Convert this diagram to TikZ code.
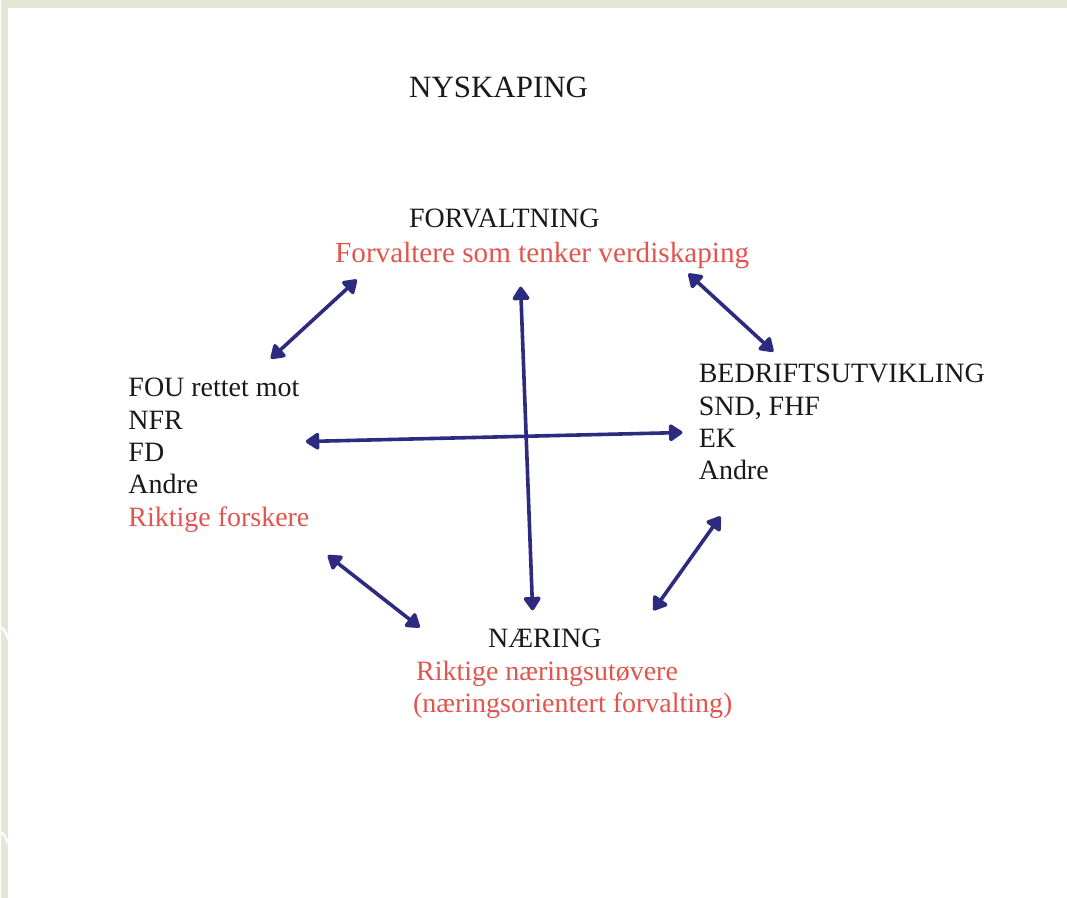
\documentclass[tikz,border=0pt]{standalone}
\usepackage{fontspec}
\setmainfont{Liberation Serif}
\usetikzlibrary{arrows.meta}

\definecolor{scanbg}{HTML}{E3E7D6}
\definecolor{inkblue}{HTML}{2D2B80}
\definecolor{inkred}{HTML}{E2554E}

\begin{document}
\begin{tikzpicture}[x=0.5pt, y=-0.5pt]
    \tikzset{
      line/.style={anchor=base west, inner sep=0pt, text=black!90, font=\fontsize{14}{16}\selectfont},
      redline/.style={line, text=inkred},
      link/.style={inkblue, line width=1.8pt, line join=round,
        {Triangle[width=9.5pt, length=7.5pt, round]}-{Triangle[width=9.5pt, length=7.5pt, round]}},
    }
    % scanned page
    \fill[scanbg] (0,0) rectangle (1067,899);
    \fill[white] (7,8) rectangle (1067,899);
    \draw[white, line width=1.2pt] (0,628) .. controls (4,632) .. (7,640);
    \draw[white, line width=1.2pt] (0,833) .. controls (4,837) .. (7,845);
    \useasboundingbox (0,0) rectangle (1067,899);

    \node[line, font=\fontsize{15.5}{18}\selectfont] (title) at (408,98) {NYSKAPING};

    % top
    \node[line] (forv) at (408,228) {FORVALTNING};
    \node[redline, font=\fontsize{14.6}{17}\selectfont] (forvred) at (334,263) {Forvaltere som tenker verdiskaping};

    % left
    \foreach \txt [count=\i] in {FOU rettet mot, NFR, FD, Andre}
      \node[line] (fou\i) at (127,{397+32.5*(\i-1)}) {\txt};
    \node[redline] (fou5) at (127,527) {Riktige forskere};

    % right
    \foreach \txt [count=\i] in {BEDRIFTSUTVIKLING, {SND, FHF}, EK, Andre}
      \node[line] (bed\i) at (698,{383+32.5*(\i-1)}) {\txt};

    % bottom
    \node[line] (naer) at (487,648) {NÆRING};
    \node[redline] (naer2) at (415,681) {Riktige næringsutøvere};
    \node[redline] (naer3) at (412,713) {(næringsorientert forvalting)};

    % arrow ends
    \coordinate (forvL) at (356,280);  \coordinate (fouT) at (270,359);
    \coordinate (forvR) at (688,274);  \coordinate (bedT) at (773,352);
    \coordinate (forvB) at (520,287);  \coordinate (naerT) at (532,611);
    \coordinate (fouR) at (305,442);   \coordinate (bedL) at (682,433);
    \coordinate (fouB) at (327,556);   \coordinate (naerL) at (419,628);
    \coordinate (bedB) at (720,517);   \coordinate (naerR) at (653,611);

    \draw[link] (forvL) -- (fouT);
    \draw[link] (forvR) -- (bedT);
    \draw[link] (forvB) -- (naerT);
    \draw[link] (fouR) -- (bedL);
    \draw[link] (fouB) -- (naerL);
    \draw[link] (bedB) -- (naerR);
\end{tikzpicture}
\end{document}
